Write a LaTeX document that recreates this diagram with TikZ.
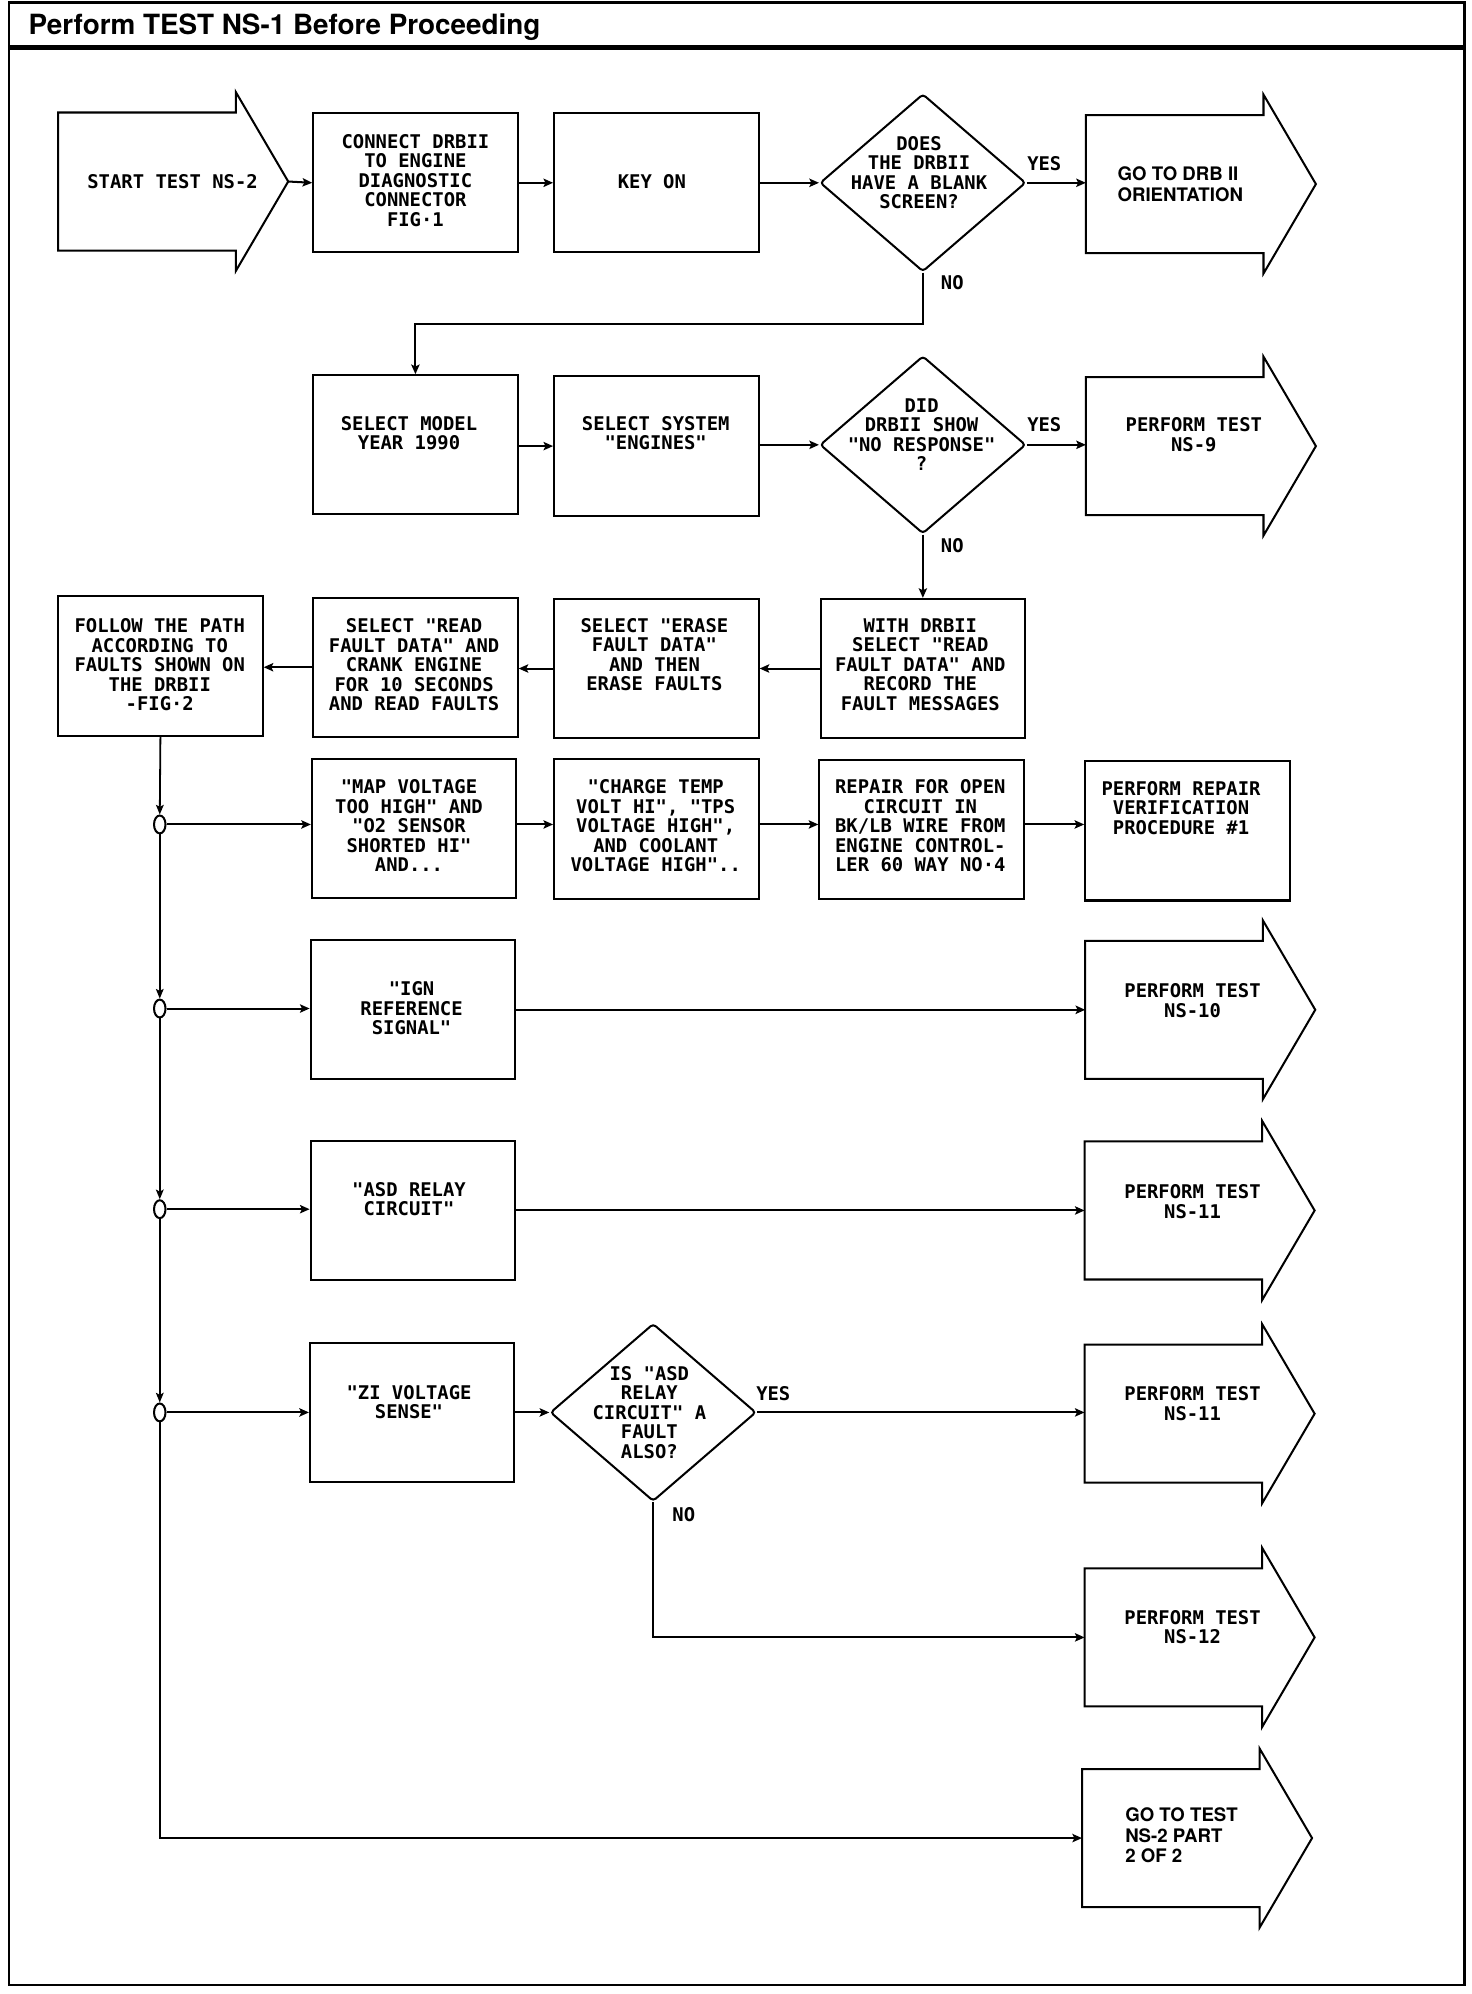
\documentclass[tikz,border=0pt]{standalone}
\usepackage{fontspec}
\usetikzlibrary{shapes.geometric,arrows.meta,calc}
\newfontfamily\plotfont{DejaVu Sans Mono}
\newfontfamily\helv{TeX Gyre Heros}
\newcommand\bigarr[3]{%
  \node[body] (#1) at (#2,#3) {};
  \draw[shapeline] (#1.north east) -- (#1.north west) -- (#1.south west) -- (#1.south east)
    -- ($(#1.south east)+(0,16)$) -- ($(#1.east)+(41,0)$) -- ($(#1.north east)+(0,-16)$) -- cycle;
  \coordinate (#1tip) at ($(#1.east)+(41,0)$);}
\begin{document}
\begin{tikzpicture}[x=0.02cm,y=-0.02cm,
  shapeline/.style={line width=0.9pt, line join=miter},
  box/.style={draw, line width=0.9pt, minimum width=3.2cm, minimum height=2.18cm, inner sep=0},
  body/.style={minimum width=2.78cm, minimum height=2.16cm, inner sep=0, outer sep=0},
  dec/.style={diamond, draw, line width=0.9pt, rounded corners=1.5pt, minimum width=3.22cm, minimum height=2.78cm, inner sep=0},
  junc/.style={ellipse, draw, line width=0.9pt, minimum width=0.18cm, minimum height=0.28cm, inner sep=0},
  txt/.style={font=\plotfont\bfseries\fontsize{8.4}{8.7}\selectfont, align=center, inner sep=0},
  htxt/.style={font=\helv\bfseries\fontsize{8.3}{9.1}\selectfont, align=left, inner sep=0, anchor=west},
  flow/.style={line width=0.9pt, -{Stealth[length=1.5mm,width=1.3mm,inset=0.3mm]}},
  bus/.style={line width=0.8pt, -{Stealth[length=1.5mm,width=1.2mm,inset=0.3mm]}}]
\useasboundingbox (0,0) rectangle (1151,1560);
% frame
\draw[line width=1.2pt] (7,2) rectangle (1146,1553);
\draw[line width=2.2pt] (7,37) -- (1146,37);
\node[anchor=base west, inner sep=0, font=\helv\bfseries\fontsize{12.4}{14}\selectfont] (title) at (22,27) {Perform TEST NS-1 Before Proceeding};

% row 1
\bigarr{start}{115}{142}
\node[txt] (tstart) at (135,142) {START TEST NS-2};
\node[box] (connect) at (325,143) {};
\node[txt] (tconnect) at (325,141) {CONNECT DRBII\\TO ENGINE\\DIAGNOSTIC\\CONNECTOR\\FIG·1};
\node[box] (keyon) at (513.5,143) {};
\node[txt] (tkeyon) at (510,142) {KEY ON};
\node[dec] (d1) at (722,143) {};
\node[txt] (td1) at (719,135) {DOES\\THE DRBII\\HAVE A BLANK\\SCREEN?};
\bigarr{drb}{919}{144}
\node[htxt] (tdrb) at (874,144) {GO TO DRB II\\ORIENTATION};
\node[txt] (yes1) at (817,128) {YES};
\node[txt] (no1) at (745,221) {NO};

% row 2
\node[box] (model) at (325,348) {};
\node[txt] (tmodel) at (320,339) {SELECT MODEL\\YEAR 1990};
\node[box] (system) at (513.5,349) {};
\node[txt] (tsystem) at (513,339) {SELECT SYSTEM\\"ENGINES"};
\node[dec] (d2) at (722,348) {};
\node[txt] (td2) at (721,340) {DID\\DRBII SHOW\\"NO RESPONSE"\\?};
\bigarr{ns9}{919}{349}
\node[txt] (tns9) at (934,340) {PERFORM TEST\\NS-9};
\node[txt] (yes2) at (817,332) {YES};
\node[txt] (no2) at (745,427) {NO};

% row 3
\node[box] (follow) at (125.5,521) {};
\node[txt] (tfollow) at (125,520) {FOLLOW THE PATH\\ACCORDING TO\\FAULTS SHOWN ON\\THE DRBII\\-FIG·2};
\node[box] (readf) at (325,522) {};
\node[txt] (tread) at (324,520) {SELECT "READ\\FAULT DATA" AND\\CRANK ENGINE\\FOR 10 SECONDS\\AND READ FAULTS};
\node[box] (erase) at (513.5,523) {};
\node[txt] (terase) at (512,512) {SELECT "ERASE\\FAULT DATA"\\AND THEN\\ERASE FAULTS};
\node[box] (withd) at (722,523) {};
\node[txt] (twith) at (720,520) {WITH DRBII\\SELECT "READ\\FAULT DATA" AND\\RECORD THE\\FAULT MESSAGES};

% bus junctions
\node[junc] (j1) at (125,645) {};
\node[junc] (j2) at (125,789) {};
\node[junc] (j3) at (125,946) {};
\node[junc] (j4) at (125,1105) {};

% row 4
\node[box] (map) at (324,648) {};
\node[txt] (tmap) at (320,646) {"MAP VOLTAGE\\TOO HIGH" AND\\"O2 SENSOR\\SHORTED HI"\\AND...};
\node[box] (charge) at (513.5,648.5) {};
\node[txt] (tcharge) at (513,646) {"CHARGE TEMP\\VOLT HI", "TPS\\VOLTAGE HIGH",\\AND COOLANT\\VOLTAGE HIGH"..};
\node[box] (repair) at (721,649) {};
\node[txt] (trepair) at (720,646) {REPAIR FOR OPEN\\CIRCUIT IN\\BK/LB WIRE FROM\\ENGINE CONTROL-\\LER 60 WAY NO·4};
\node[box] (verify) at (929,650) {};
\node[txt] (tverify) at (924,632) {PERFORM REPAIR\\VERIFICATION\\PROCEDURE \#1};

% row 5
\node[box] (ign) at (323,790) {};
\node[txt] (tign) at (322,789) {"IGN\\REFERENCE\\SIGNAL"};
\bigarr{ns10}{918.5}{790}
\node[txt] (tns10) at (933,783) {PERFORM TEST\\NS-10};

% row 6
\node[box] (asd) at (323,947) {};
\node[txt] (tasd) at (320,938) {"ASD RELAY\\CIRCUIT"};
\bigarr{ns11}{918}{947}
\node[txt] (tns11) at (933,940) {PERFORM TEST\\NS-11};

% row 7
\node[box] (zi) at (322.5,1105) {};
\node[txt] (tzi) at (320,1097) {"ZI VOLTAGE\\SENSE"};
\node[dec] (d3) at (511,1105) {};
\node[txt] (td3) at (508,1105) {IS "ASD\\RELAY\\CIRCUIT" A\\FAULT\\ALSO?};
\bigarr{nsb}{918}{1106}
\node[txt] (tnsb) at (933,1098) {PERFORM TEST\\NS-11};
\node[txt] (yes3) at (605,1090) {YES};
\node[txt] (no3) at (535,1185) {NO};

% row 8
\bigarr{ns12}{918}{1281}
\node[txt] (tns12) at (933,1273) {PERFORM TEST\\NS-12};

% row 9
\bigarr{goto}{916}{1438}
\node[htxt] (tgoto) at (880,1436) {GO TO TEST\\NS-2 PART\\2 OF 2};

% connectors
\draw[flow] (starttip) -- (connect.west);
\draw[flow] (connect) -- (keyon);
\draw[flow] (keyon) -- (d1);
\draw[flow] (d1.east) -- (d1 -| drb.west);
\draw[flow] (d1.south) -- ++(0,40) -| (model.north);
\draw[flow] (model.east |- system) -- (system.west);
\draw[flow] (system.east |- d2) -- (d2.west);
\draw[flow] (d2.east) -- (d2 -| ns9.west);
\draw[flow] (d2.south) -- (withd.north);
\draw[flow] (withd.west) -- (withd.west -| erase.east);
\draw[flow] (erase.west) -- (erase.west -| readf.east);
\draw[flow] (readf.west) -- (readf.west -| follow.east);
\draw[bus] (follow.south) -- (j1.north);
\draw[bus] (j1.south) -- (j2.north);
\draw[bus] (j2.south) -- (j3.north);
\draw[bus] (j3.south) -- (j4.north);
\draw[flow] (j1.east) -- (j1 -| map.west);
\draw[flow] (j1 -| map.east) -- (j1 -| charge.west);
\draw[flow] (j1 -| charge.east) -- (j1 -| repair.west);
\draw[flow] (j1 -| repair.east) -- (j1 -| verify.west);
\draw[flow] (j2.east) -- (j2 -| ign.west);
\draw[flow] (ign.east) -- (ign.east -| ns10.west);
\draw[flow] (j3.east) -- (j3 -| asd.west);
\draw[flow] (asd.east) -- (asd.east -| ns11.west);
\draw[flow] (j4.east) -- (j4 -| zi.west);
\draw[flow] (zi) -- (d3);
\draw[flow] (d3.east) -- (d3 -| nsb.west);
\draw[flow] (d3.south) |- (ns12.west);
\draw[flow] (j4.south) |- (goto.west);
\end{tikzpicture}
\end{document}
